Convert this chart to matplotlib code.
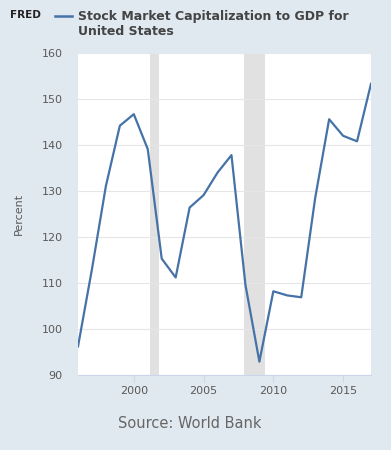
import matplotlib.pyplot as plt

# Annual values
years = [1996, 1997, 1998, 1999, 2000, 2001, 2002, 2003, 2004, 2005, 2006,
         2007, 2008, 2009, 2010, 2011, 2012, 2013, 2014, 2015, 2016, 2017]
values = [96.2, 113.0, 131.1, 144.2, 146.7, 139.1, 115.3, 111.2, 126.4, 129.1, 134.0,
          137.8, 109.6, 92.9, 108.2, 107.3, 106.9, 128.5, 145.6, 142.0, 140.8, 153.3]

recessions = [(2001.17, 2001.83), (2007.92, 2009.42)]
yticks = [90, 100, 110, 120, 130, 140, 150, 160]
xticks = [2000, 2005, 2010, 2015]

bg = '#e1e9f0'
fig = plt.figure(figsize=(3.91, 4.5), dpi=100, facecolor=bg)
ax = fig.add_axes([78 / 391, 75 / 450, 293 / 391, 322 / 450])
ax.set_facecolor('white')

for start, end in recessions:
    ax.axvspan(start, end, color='#e1e1e1', lw=0, zorder=1)

ax.plot(years, values, color='#4572a7', lw=1.6, zorder=3)

ax.set_xlim(1996, 2017)
ax.set_ylim(90, 160)
ax.set_yticks(yticks)
ax.set_xticks(xticks)
ax.grid(axis='y', color='#e6e6e6', lw=0.8, zorder=0)
for s in ['top', 'right', 'left']:
    ax.spines[s].set_visible(False)
ax.spines['bottom'].set_color('#ccd6eb')
ax.tick_params(axis='y', length=0, pad=11, labelsize=8, labelcolor='#595959')
ax.tick_params(axis='x', length=5, color='#ccd6eb', pad=3, labelsize=8, labelcolor='#595959')
ax.set_ylabel('Percent', fontsize=8, color='#595959', labelpad=13)

# header
fig.text(10 / 391, 1 - 15 / 450, 'FRED', fontsize=7.5, fontweight='bold',
         color='#222222', va='center', ha='left')
fig.lines.append(plt.Line2D([55 / 391, 72 / 391], [1 - 16 / 450, 1 - 16 / 450],
                            color='#4572a7', lw=1.8, transform=fig.transFigure))
fig.text(78 / 391, 1 - 24 / 450, 'Stock Market Capitalization to GDP for\nUnited States',
         fontsize=9, fontweight='bold', color='#444444', va='center', ha='left',
         linespacing=1.15)

fig.text(190 / 391, 1 - 424 / 450, 'Source: World Bank', fontsize=10.5,
         color='#666666', ha='center', va='center')

fig.savefig('out.png', dpi=100, facecolor=bg)
